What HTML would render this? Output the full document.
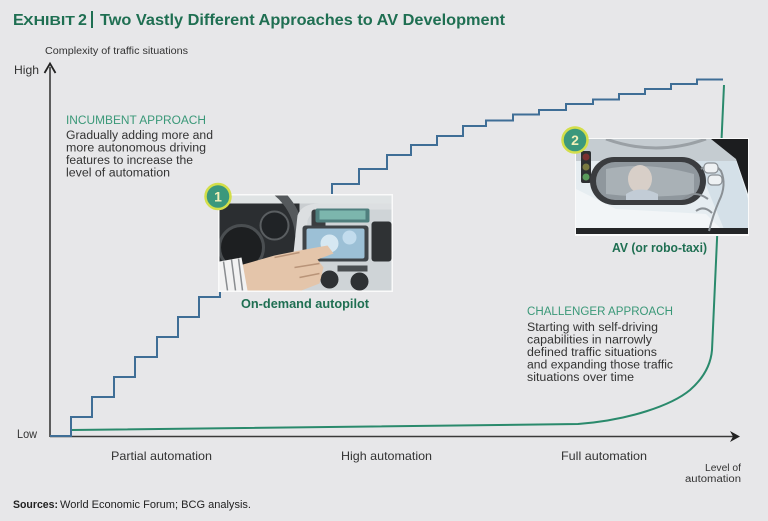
<!DOCTYPE html>
<html><head><meta charset="utf-8"><style>
html,body{margin:0;padding:0;background:#e7e7e9;}
svg{display:block;}
text{font-family:"Liberation Sans",sans-serif;}
</style></head><body>
<svg width="768" height="521" viewBox="0 0 768 521" xmlns="http://www.w3.org/2000/svg">
<rect x="0" y="0" width="768" height="521" fill="#e7e7e9"/>

<!-- Title -->
<g fill="#1f6f52" font-weight="bold">
<text x="13" y="25" font-size="16">E</text>
<text x="23" y="25" font-size="12.5" textLength="52" lengthAdjust="spacingAndGlyphs">XHIBIT</text>
<text x="78" y="25" font-size="16">2</text>
<rect x="91" y="11" width="2" height="17"/>
<text x="100" y="25" font-size="16" textLength="405" lengthAdjust="spacingAndGlyphs">Two Vastly Different Approaches to AV Development</text>
</g>

<!-- axis labels -->
<text x="45" y="54" font-size="10" fill="#333" textLength="143" lengthAdjust="spacingAndGlyphs">Complexity of traffic situations</text>
<text x="14" y="74" font-size="12" fill="#333" textLength="25" lengthAdjust="spacingAndGlyphs">High</text>
<text x="17" y="438" font-size="12" fill="#333" textLength="20" lengthAdjust="spacingAndGlyphs">Low</text>

<!-- axes -->
<line x1="50" y1="437" x2="50" y2="67" stroke="#3a3a3a" stroke-width="1.6"/>
<path d="M44.5,73 L50,63.5 L55.5,73" fill="none" stroke="#222" stroke-width="1.8"/>
<line x1="50" y1="436.5" x2="736" y2="436.5" stroke="#3a3a3a" stroke-width="1.6"/>
<path d="M730,431 L740,436.5 L730,442 L733,436.5 Z" fill="#222"/>

<text x="111" y="460" font-size="12" fill="#333" textLength="101" lengthAdjust="spacingAndGlyphs">Partial automation</text>
<text x="341" y="460" font-size="12" fill="#333" textLength="91" lengthAdjust="spacingAndGlyphs">High automation</text>
<text x="561" y="460" font-size="12" fill="#333" textLength="86" lengthAdjust="spacingAndGlyphs">Full automation</text>
<text x="705" y="471" font-size="10" fill="#333" textLength="36" lengthAdjust="spacingAndGlyphs">Level of</text>
<text x="685" y="482" font-size="10" fill="#333" textLength="56" lengthAdjust="spacingAndGlyphs">automation</text>

<text x="13" y="508" font-size="11" fill="#222" font-weight="bold" textLength="45" lengthAdjust="spacingAndGlyphs">Sources:</text>
<text x="60" y="508" font-size="11" fill="#222" textLength="191" lengthAdjust="spacingAndGlyphs">World Economic Forum; BCG analysis.</text>

<!-- green challenger curve -->
<path d="M71,430 L578,424 C630,420 672,405 690,390 C706,376 711,362 712,350 L724,85" fill="none" stroke="#2a8a6c" stroke-width="2"/>

<!-- staircase -->
<path d="M50,436 H71 V417 H92 V397 H114 V377 H135 V357 H157 V337 H178 V317 H199 V297 H220 V292" fill="none" stroke="#3f6e96" stroke-width="2"/>
<path d="M332,196 V184 H359 V169 H387 V155 H411 V145 H437 V136 H463 V126 H486 V120.5 H513 V114.5 H539 V110 H566 V104 H593 V99.5 H619 V94 H645 V89 H671 V84 H697 V79.5 H723" fill="none" stroke="#3f6e96" stroke-width="2"/>

<!-- incumbent text -->
<text x="66" y="124" font-size="11.5" fill="#3a9878" textLength="140" lengthAdjust="spacingAndGlyphs">INCUMBENT APPROACH</text>
<g font-size="11.5" fill="#333">
<text x="66" y="139" textLength="147" lengthAdjust="spacingAndGlyphs">Gradually adding more and</text>
<text x="66" y="151.5" textLength="140" lengthAdjust="spacingAndGlyphs">more autonomous driving</text>
<text x="66" y="164" textLength="127" lengthAdjust="spacingAndGlyphs">features to increase the</text>
<text x="66" y="176.5" textLength="104" lengthAdjust="spacingAndGlyphs">level of automation</text>
</g>

<!-- challenger text -->
<text x="527" y="315" font-size="11.5" fill="#3a9878" textLength="146" lengthAdjust="spacingAndGlyphs">CHALLENGER APPROACH</text>
<g font-size="11.5" fill="#333">
<text x="527" y="331" textLength="131" lengthAdjust="spacingAndGlyphs">Starting with self-driving</text>
<text x="527" y="343.5" textLength="125" lengthAdjust="spacingAndGlyphs">capabilities in narrowly</text>
<text x="527" y="356" textLength="130" lengthAdjust="spacingAndGlyphs">defined traffic situations</text>
<text x="527" y="368.5" textLength="146" lengthAdjust="spacingAndGlyphs">and expanding those traffic</text>
<text x="527" y="381" textLength="107" lengthAdjust="spacingAndGlyphs">situations over time</text>
</g>

<!-- Image 1: dashboard -->
<g>
<rect x="218" y="194" width="175" height="98" fill="#fafafa"/>
<svg x="219.5" y="195.5" width="172" height="95" viewBox="0 0 172 95">
<rect width="172" height="95" fill="#c9cdd0"/>
<rect width="80" height="95" fill="#2b2e31"/>
<path d="M0,0 H172 V8 H0 Z" fill="#dfe3e4"/>
<path d="M-30,10 A60,60 0 0 1 80,40" fill="none" stroke="#55595c" stroke-width="9"/>
<circle cx="22" cy="52" r="22" fill="#1d1f21" stroke="#4a4e51" stroke-width="3"/>
<circle cx="55" cy="30" r="14" fill="#202326" stroke="#5a5e61" stroke-width="2"/>
<path d="M70,95 L78,20 Q82,8 100,8 H172 V95 Z" fill="#dcdfe1"/>
<path d="M82,95 L88,25 Q92,14 104,14 H172 V95 Z" fill="#cfd4d7"/>
<rect x="92" y="14" width="14" height="44" rx="3" fill="#3a3d40"/>
<rect x="152" y="26" width="20" height="40" rx="3" fill="#2f3234"/>
<rect x="96" y="13" width="54" height="14" rx="2" fill="#4f7f7e"/>
<rect x="100" y="15" width="46" height="9" fill="#7cb6ad"/>
<rect x="83" y="30" width="66" height="36" rx="3" fill="#3f4448"/>
<rect x="87" y="33" width="58" height="30" rx="2" fill="#9cc0d6"/>
<circle cx="110" cy="48" r="9" fill="#d6e8f2"/>
<circle cx="130" cy="42" r="7" fill="#c2dced"/>
<rect x="118" y="70" width="30" height="6" fill="#4a4e51"/>
<circle cx="110" cy="84" r="9" fill="#2e3134"/>
<circle cx="140" cy="86" r="9" fill="#2e3134"/>
<path d="M20,70 L55,60 L80,55 L108,50 L114,58 L98,64 L104,72 L100,88 L82,95 L20,95 Z" fill="#e4c5aa"/>
<path d="M55,62 L80,57 M75,72 L100,68 M80,82 L100,78" stroke="#b99479" stroke-width="1.5"/>
<path d="M0,66 L22,62 L28,95 L0,95 Z" fill="#f2f2f2"/>
<path d="M4,66 L8,95 M12,64 L16,95 M19,63 L23,95" stroke="#8a8d90" stroke-width="1.5"/>
</svg>
</g>

<!-- Image 2: mirror -->
<g>
<rect x="575" y="138" width="174" height="98" fill="#fafafa"/>
<svg x="576" y="139" width="172" height="95" viewBox="0 0 172 95">
<rect width="172" height="95" fill="#e6edf1"/>
<rect width="172" height="22" fill="#c5ccd1"/>
<path d="M30,0 Q80,18 130,0" fill="none" stroke="#9aa0a5" stroke-width="3"/>
<path d="M135,0 H172 V55 L160,20 Z" fill="#1c1d1f"/>
<path d="M120,22 L160,22 L172,60 L172,95 L150,95 Z" fill="#d4e0e8"/>
<path d="M0,50 L40,70 L130,75 L150,95 L0,95 Z" fill="#f2f5f7"/>
<rect x="0" y="89" width="172" height="6" fill="#242628"/>
<rect x="5" y="12" width="10" height="32" rx="2" fill="#2e3032"/>
<circle cx="10" cy="18" r="3.5" fill="#7a3030"/>
<circle cx="10" cy="28" r="3.5" fill="#7a7a40"/>
<circle cx="10" cy="38" r="3.5" fill="#5a9a5a"/>
<rect x="14" y="18" width="116" height="48" rx="24" fill="#3a3c3f"/>
<rect x="20" y="23" width="104" height="38" rx="19" fill="#8f979d"/>
<path d="M30,30 Q70,22 118,35 L118,55 Q70,60 30,55 Z" fill="#a9b1b6"/>
<ellipse cx="64" cy="40" rx="12" ry="14" fill="#d8cfc8"/>
<path d="M50,55 Q64,46 82,55 L82,61 L50,61 Z" fill="#c2ccd6"/>
<path d="M125,30 q12,-8 20,2 q6,14 -2,30 q-6,14 -10,30 M108,60 q10,-10 24,0 M120,72 q8,-6 16,2" fill="none" stroke="#8a9095" stroke-width="2"/>
<rect x="128" y="24" width="14" height="10" rx="4" fill="#eef1f3" stroke="#8a9095" stroke-width="1.2"/>
<rect x="132" y="36" width="14" height="10" rx="4" fill="#eef1f3" stroke="#8a9095" stroke-width="1.2"/>
</svg>
</g>

<!-- badges -->
<circle cx="218" cy="196.5" r="12.5" fill="#3b987c" stroke="#d3de4a" stroke-width="2.5"/>
<text x="218" y="201.5" font-size="14" font-weight="bold" fill="#f3f0b8" text-anchor="middle">1</text>
<circle cx="575" cy="140" r="12.5" fill="#3b987c" stroke="#d3de4a" stroke-width="2.5"/>
<text x="575" y="145" font-size="14" font-weight="bold" fill="#f3f0b8" text-anchor="middle">2</text>

<!-- image captions -->
<text x="241" y="308" font-size="12.5" font-weight="bold" fill="#1f6f52" textLength="128" lengthAdjust="spacingAndGlyphs">On-demand autopilot</text>
<text x="612" y="252" font-size="12.5" font-weight="bold" fill="#1f6f52" textLength="95" lengthAdjust="spacingAndGlyphs">AV (or robo-taxi)</text>
</svg>
</body></html>
